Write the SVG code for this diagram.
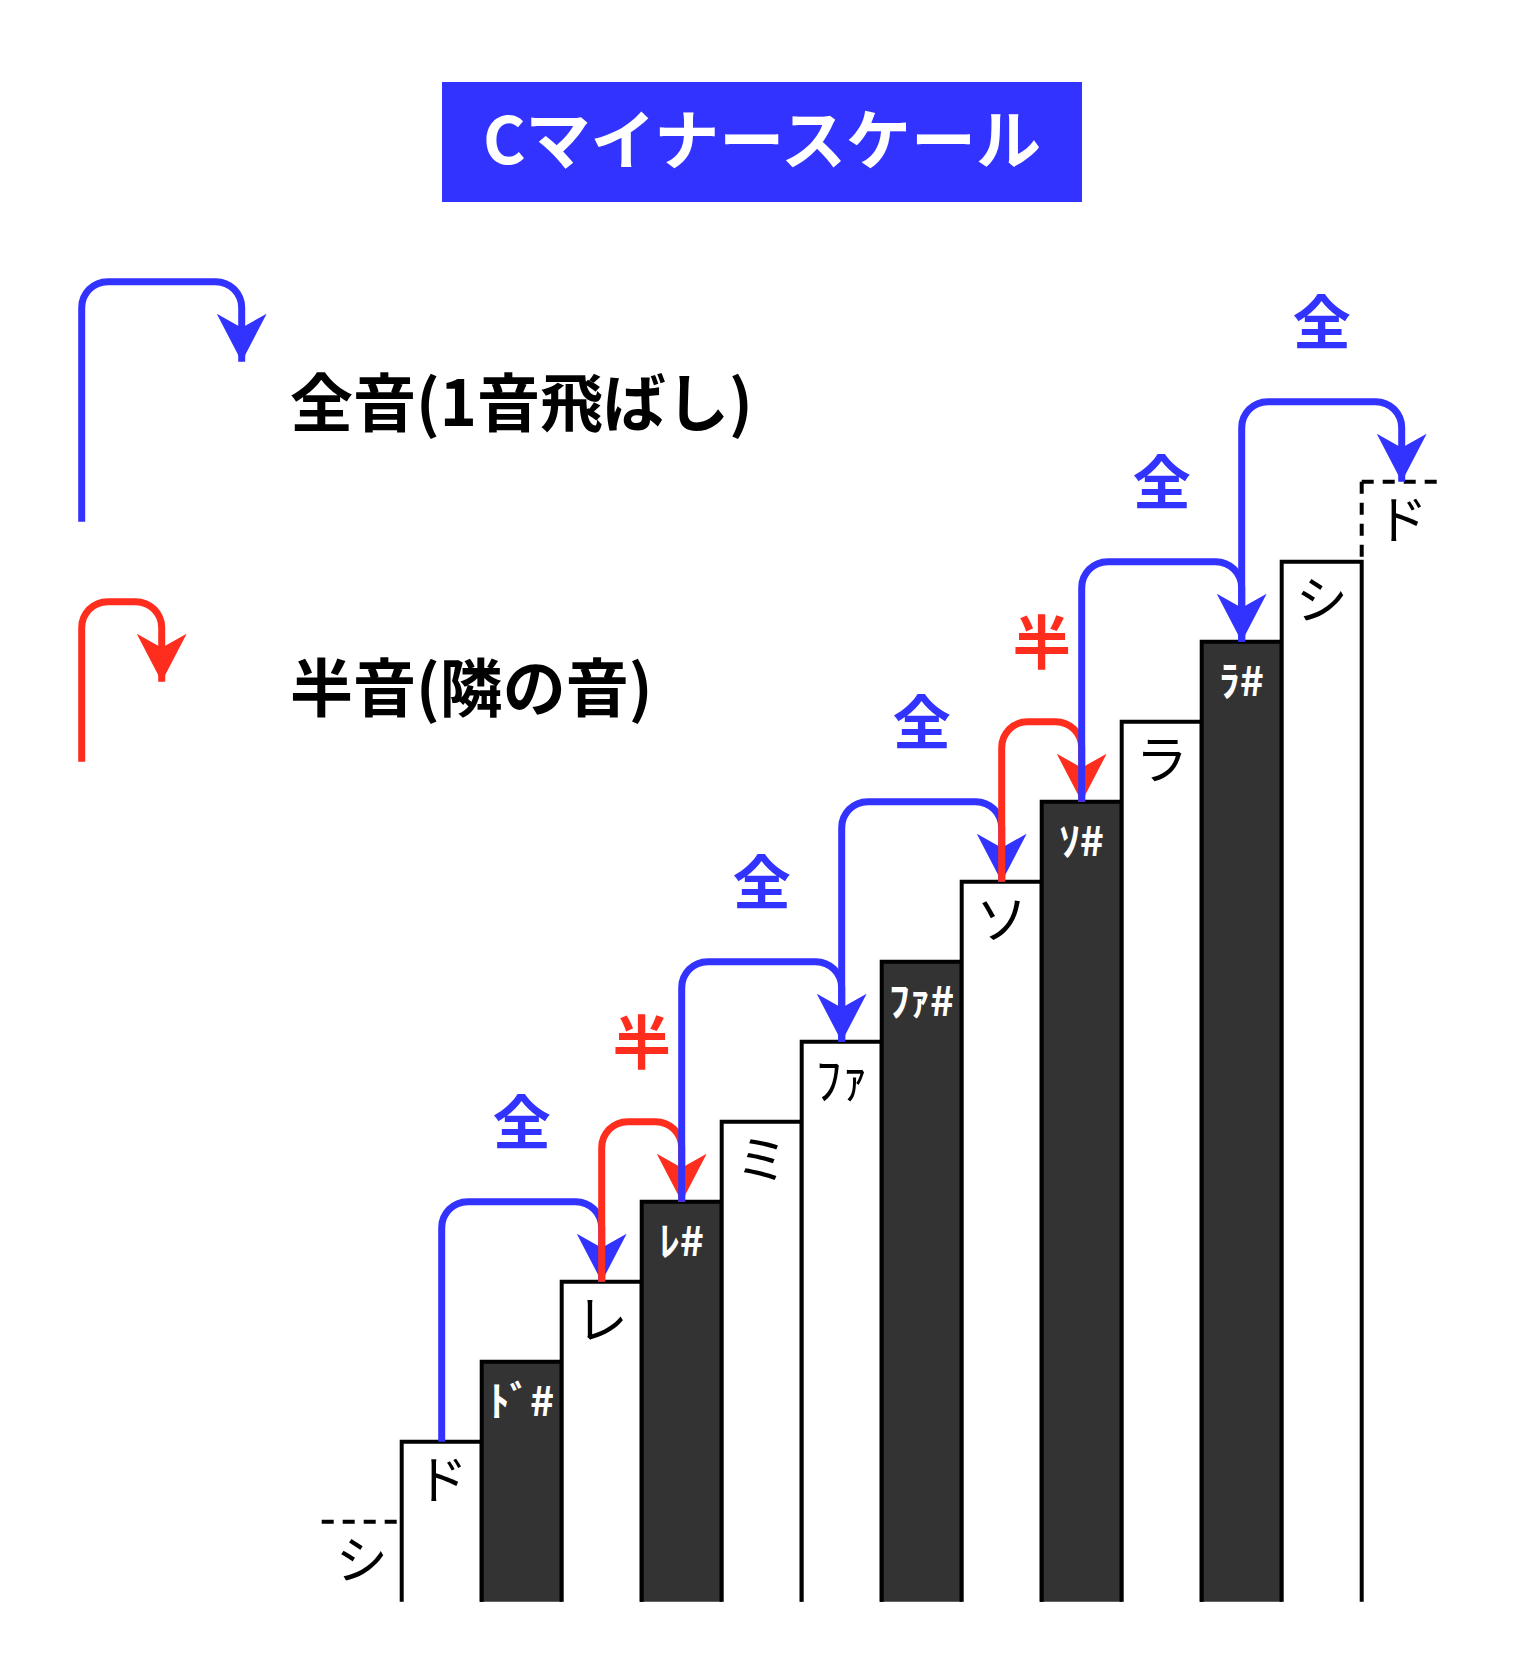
<svg xmlns="http://www.w3.org/2000/svg" width="1520" height="1680" viewBox="0 0 1520 1680">
<style>
.step{stroke:#000;stroke-width:4;stroke-linejoin:miter}
.w{fill:#fff}
.b{fill:#333}
.dash{fill:none;stroke:#000;stroke-width:4;stroke-dasharray:12 9}
.lw{font-family:"Noto Sans CJK JP",sans-serif;font-size:52px;fill:#000;text-anchor:middle}
.lb{font-family:"Noto Sans CJK JP",sans-serif;font-size:41px;font-weight:700;fill:#fff;text-anchor:middle}
.whole{fill:none;stroke:#3333FF;stroke-width:7;marker-end:url(#ab)}
.half{fill:none;stroke:#FF2D1E;stroke-width:7;marker-end:url(#ar)}
.tw{font-family:"Noto Sans CJK JP",sans-serif;font-size:58px;font-weight:700;fill:#3333FF;text-anchor:middle}
.th{font-family:"Noto Sans CJK JP",sans-serif;font-size:58px;font-weight:700;fill:#FF2D1E;text-anchor:middle}
.leg{font-family:"Noto Sans CJK JP",sans-serif;font-size:63px;font-weight:700;fill:#000}
.title{font-family:"Noto Sans CJK JP",sans-serif;font-size:65px;font-weight:700;fill:#fff;text-anchor:middle}
</style>
<defs>
<marker id="ab" markerUnits="userSpaceOnUse" viewBox="0 0 50 50" refX="48" refY="25" markerWidth="50" markerHeight="50" orient="auto">
<path d="M48,25 L0,0 L14,25 L0,50 Z" fill="#3333FF"/>
</marker>
<marker id="ar" markerUnits="userSpaceOnUse" viewBox="0 0 50 50" refX="48" refY="25" markerWidth="50" markerHeight="50" orient="auto">
<path d="M48,25 L0,0 L14,25 L0,50 Z" fill="#FF2D1E"/>
</marker>
</defs>
<rect width="1520" height="1680" fill="#fff"/>

<g id="title">
<rect x="442" y="82" width="640" height="120" fill="#3333FF"/>
<text class="title" x="762" y="164">Cマイナースケール</text>
</g>

<g id="legend-whole">
<path class="whole" d="M81.7,521.7 V307.7 A26,26 0 0 1 107.7,281.7 H215.7 A26,26 0 0 1 241.7,307.7 V361.7"/>
<text class="leg" x="290" y="426">全音(1音飛ばし)</text>
</g>
<g id="legend-half">
<path class="half" d="M81.7,761.7 V627.7 A26,26 0 0 1 107.7,601.7 H135.7 A26,26 0 0 1 161.7,627.7 V681.7"/>
<text class="leg" x="290" y="711">半音(隣の音)</text>
</g>

<g id="steps">
<g id="step-si-low">
<path class="dash" d="M321.7,1521.7 H401.7"/>
<text class="lw" x="361.7" y="1578.7">シ</text>
</g>
<g id="step-do">
<path class="step w" d="M401.7,1601.7 V1441.7 H481.7 V1601.7"/>
<text class="lw" x="441.7" y="1498.7">ド</text>
</g>
<g id="step-do-sharp">
<path class="step b" d="M481.7,1601.7 V1361.7 H561.7 V1601.7"/>
<text class="lb" x="521.7" y="1415.7">ﾄﾞ#</text>
</g>
<g id="step-re">
<path class="step w" d="M561.7,1601.7 V1281.7 H641.7 V1601.7"/>
<text class="lw" x="601.7" y="1338.7">レ</text>
</g>
<g id="step-re-sharp">
<path class="step b" d="M641.7,1601.7 V1201.7 H721.7 V1601.7"/>
<text class="lb" x="681.7" y="1255.7">ﾚ#</text>
</g>
<g id="step-mi">
<path class="step w" d="M721.7,1601.7 V1121.7 H801.7 V1601.7"/>
<text class="lw" x="761.7" y="1178.7">ミ</text>
</g>
<g id="step-fa">
<path class="step w" d="M801.7,1601.7 V1041.7 H881.7 V1601.7"/>
<text class="lw" x="841.7" y="1098.7">ﾌｧ</text>
</g>
<g id="step-fa-sharp">
<path class="step b" d="M881.7,1601.7 V961.7 H961.7 V1601.7"/>
<text class="lb" x="921.7" y="1015.7">ﾌｧ#</text>
</g>
<g id="step-so">
<path class="step w" d="M961.7,1601.7 V881.7 H1041.7 V1601.7"/>
<text class="lw" x="1001.7" y="938.7">ソ</text>
</g>
<g id="step-so-sharp">
<path class="step b" d="M1041.7,1601.7 V801.7 H1121.7 V1601.7"/>
<text class="lb" x="1081.7" y="855.7">ｿ#</text>
</g>
<g id="step-la">
<path class="step w" d="M1121.7,1601.7 V721.7 H1201.7 V1601.7"/>
<text class="lw" x="1161.7" y="778.7">ラ</text>
</g>
<g id="step-la-sharp">
<path class="step b" d="M1201.7,1601.7 V641.7 H1281.7 V1601.7"/>
<text class="lb" x="1241.7" y="695.7">ﾗ#</text>
</g>
<g id="step-si">
<path class="step w" d="M1281.7,1601.7 V561.7 H1361.7 V1601.7"/>
<text class="lw" x="1321.7" y="618.7">シ</text>
</g>
<g id="step-do-high">
<path class="dash" d="M1361.7,481.7 H1441.7"/>
<path class="dash" d="M1361.7,481.7 V561.7"/>
<text class="lw" x="1401.7" y="538.7">ド</text>
</g>
</g>

<g id="connectors">
<path class="whole" d="M441.7,1441.7 V1227.7 A26,26 0 0 1 467.7,1201.7 H575.7 A26,26 0 0 1 601.7,1227.7 V1281.7"/>
<path class="half" d="M601.7,1281.7 V1147.7 A26,26 0 0 1 627.7,1121.7 H655.7 A26,26 0 0 1 681.7,1147.7 V1201.7"/>
<path class="whole" d="M681.7,1201.7 V987.7 A26,26 0 0 1 707.7,961.7 H815.7 A26,26 0 0 1 841.7,987.7 V1041.7"/>
<path class="whole" d="M841.7,1041.7 V827.7 A26,26 0 0 1 867.7,801.7 H975.7 A26,26 0 0 1 1001.7,827.7 V881.7"/>
<path class="half" d="M1001.7,881.7 V747.7 A26,26 0 0 1 1027.7,721.7 H1055.7 A26,26 0 0 1 1081.7,747.7 V801.7"/>
<path class="whole" d="M1081.7,801.7 V587.7 A26,26 0 0 1 1107.7,561.7 H1215.7 A26,26 0 0 1 1241.7,587.7 V641.7"/>
<path class="whole" d="M1241.7,641.7 V427.7 A26,26 0 0 1 1267.7,401.7 H1375.7 A26,26 0 0 1 1401.7,427.7 V481.7"/>
</g>

<g id="interval-labels">
<text class="tw" x="521.7" y="1143.7">全</text>
<text class="th" x="641.7" y="1063.7">半</text>
<text class="tw" x="761.7" y="903.7">全</text>
<text class="tw" x="921.7" y="743.7">全</text>
<text class="th" x="1041.7" y="663.7">半</text>
<text class="tw" x="1161.7" y="503.7">全</text>
<text class="tw" x="1321.7" y="343.7">全</text>
</g>
</svg>
